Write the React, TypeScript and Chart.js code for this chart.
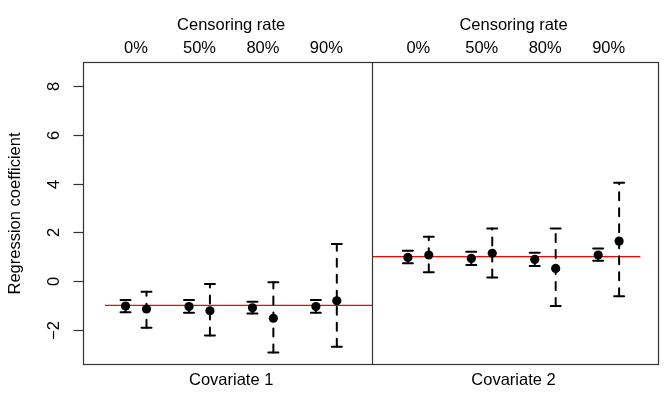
import { useEffect, useRef } from 'react';
import { Chart, registerables } from 'chart.js';

Chart.register(...registerables);

// ---- data ----
const censoringRates = ['0%', '50%', '80%', '90%'];
const covariates = ['Covariate 1', 'Covariate 2'];
const trueCoef = [-1, 1];
const yTicks = [-2, 0, 2, 4, 6, 8];

// first estimator (narrow intervals)
const cov1EstA = [-1.03, -1.05, -1.1, -1.05];
const cov1LoA = [-1.28, -1.3, -1.33, -1.3];
const cov1HiA = [-0.78, -0.78, -0.85, -0.78];
const cov2EstA = [0.97, 0.93, 0.89, 1.07];
const cov2LoA = [0.73, 0.66, 0.62, 0.83];
const cov2HiA = [1.24, 1.2, 1.16, 1.34];

// second estimator (wide intervals)
const cov1EstB = [-1.15, -1.22, -1.53, -0.81];
const cov1LoB = [-1.92, -2.24, -2.94, -2.7];
const cov1HiB = [-0.44, -0.12, -0.05, 1.52];
const cov2EstB = [1.07, 1.14, 0.52, 1.64];
const cov2LoB = [0.36, 0.15, -1.03, -0.62];
const cov2HiB = [1.82, 2.16, 2.16, 4.04];

// ---- layout (in x-scale units) ----
const X_MIN = 0;
const X_MAX = 9.07;
const Y_MIN = -3.45;
const Y_MAX = 9.0;
const panelGroupX = [
  [0.82, 1.82, 2.82, 3.82],
  [5.27, 6.27, 7.27, 8.27],
];
const PAIR_OFFSET = 0.165;
const DIVIDER_X = 4.545;
const redSpan = [
  [0.33, DIVIDER_X],
  [DIVIDER_X, 8.77],
];

const FONT = '16.5px "Liberation Sans", Arial, Helvetica, sans-serif';

const est = [
  [cov1EstA, cov2EstA],
  [cov1EstB, cov2EstB],
];
const lo = [
  [cov1LoA, cov2LoA],
  [cov1LoB, cov2LoB],
];
const hi = [
  [cov1HiA, cov2HiA],
  [cov1HiB, cov2HiB],
];

function seriesPoints(s: number) {
  const pts: { x: number; y: number }[] = [];
  for (let k = 0; k < 2; k++) {
    for (let i = 0; i < censoringRates.length; i++) {
      pts.push({
        x: panelGroupX[k][i] + (s === 0 ? -PAIR_OFFSET : PAIR_OFFSET),
        y: est[s][k][i],
      });
    }
  }
  return pts;
}

const rBasePlugin = {
  id: 'rBase',
  beforeDatasetsDraw(chart: any) {
    const { ctx, scales } = chart;
    const x = scales.x;
    const y = scales.y;
    ctx.save();
    // reference lines (true values)
    ctx.strokeStyle = '#ff0000';
    ctx.lineWidth = 1.3;
    for (let k = 0; k < 2; k++) {
      const py = y.getPixelForValue(trueCoef[k]);
      ctx.beginPath();
      ctx.moveTo(x.getPixelForValue(redSpan[k][0]), py);
      ctx.lineTo(x.getPixelForValue(redSpan[k][1]), py);
      ctx.stroke();
    }
    // error bars
    ctx.strokeStyle = '#000';
    ctx.lineWidth = 2;
    ctx.lineCap = 'round';
    for (let s = 0; s < 2; s++) {
      for (let k = 0; k < 2; k++) {
        for (let i = 0; i < censoringRates.length; i++) {
          const px = x.getPixelForValue(
            panelGroupX[k][i] + (s === 0 ? -PAIR_OFFSET : PAIR_OFFSET)
          );
          const yl = y.getPixelForValue(lo[s][k][i]);
          const yh = y.getPixelForValue(hi[s][k][i]);
          ctx.setLineDash([8, 8]);
          ctx.beginPath();
          ctx.moveTo(px, yl);
          ctx.lineTo(px, yh);
          ctx.stroke();
          ctx.setLineDash([]);
          ctx.beginPath();
          ctx.moveTo(px - 5, yl);
          ctx.lineTo(px + 5, yl);
          ctx.moveTo(px - 5, yh);
          ctx.lineTo(px + 5, yh);
          ctx.stroke();
        }
      }
    }
    ctx.restore();
  },
  afterDraw(chart: any) {
    const { ctx, chartArea: a, scales } = chart;
    const x = scales.x;
    const y = scales.y;
    ctx.save();
    ctx.strokeStyle = '#333';
    ctx.lineWidth = 1.2;
    // box
    const L = Math.round(a.left) - 0.5;
    const T = Math.round(a.top) + 0.5;
    const R = Math.round(a.right) - 0.5;
    const B = Math.round(a.bottom) - 0.5;
    ctx.strokeRect(L, T, R - L, B - T);
    // divider
    const dx = Math.round(x.getPixelForValue(DIVIDER_X)) + 0.5;
    ctx.beginPath();
    ctx.moveTo(dx, T);
    ctx.lineTo(dx, B);
    ctx.stroke();
    // y ticks
    ctx.fillStyle = '#000';
    ctx.font = FONT;
    for (const t of yTicks) {
      const py = Math.round(y.getPixelForValue(t)) + 0.5;
      ctx.beginPath();
      ctx.moveTo(L, py);
      ctx.lineTo(L - 10, py);
      ctx.stroke();
      ctx.save();
      ctx.translate(54.5, py);
      ctx.rotate(-Math.PI / 2);
      ctx.textAlign = 'center';
      ctx.textBaseline = 'middle';
      ctx.fillText(t < 0 ? '\u2212' + Math.abs(t) : String(t), 0, 0);
      ctx.restore();
    }
    // y title
    ctx.save();
    ctx.translate(15, (a.top + a.bottom) / 2);
    ctx.rotate(-Math.PI / 2);
    ctx.textAlign = 'center';
    ctx.textBaseline = 'middle';
    ctx.fillText('Regression coefficient', 0, 0);
    ctx.restore();
    // top labels and bottom labels
    ctx.textAlign = 'center';
    ctx.textBaseline = 'middle';
    for (let k = 0; k < 2; k++) {
      const g = panelGroupX[k];
      const mid = x.getPixelForValue((g[0] + g[g.length - 1]) / 2);
      ctx.fillText('Censoring rate', mid, 25);
      ctx.fillText(covariates[k], mid, 380);
      for (let i = 0; i < censoringRates.length; i++) {
        ctx.fillText(censoringRates[i], x.getPixelForValue(g[i]), 48);
      }
    }
    ctx.restore();
  },
};

export default function App() {
  const ref = useRef<HTMLCanvasElement | null>(null);
  useEffect(() => {
    if (!ref.current) return;
    const chart = new Chart(ref.current, {
      type: 'scatter',
      data: {
        datasets: [0, 1].map((s) => ({
          label: s === 0 ? 'Estimator A' : 'Estimator B',
          data: seriesPoints(s),
          pointRadius: 4.6,
          pointHoverRadius: 4.6,
          backgroundColor: '#000',
          borderColor: '#000',
          borderWidth: 0,
          showLine: false,
        })),
      },
      options: {
        responsive: false,
        animation: false,
        devicePixelRatio: 1,
        layout: { padding: { left: 84, top: 62, right: 4, bottom: 44 } },
        plugins: {
          legend: { display: false },
          tooltip: { enabled: false },
        },
        scales: {
          x: { type: 'linear', display: false, min: X_MIN, max: X_MAX },
          y: { type: 'linear', display: false, min: Y_MIN, max: Y_MAX },
        },
      },
      plugins: [rBasePlugin],
    });
    return () => chart.destroy();
  }, []);
  return (
    <div style={{ position: 'fixed', left: 0, top: 0, width: 664, height: 409, background: '#fff' }}>
      <canvas ref={ref} width={664} height={409} style={{ display: 'block' }} />
    </div>
  );
}
